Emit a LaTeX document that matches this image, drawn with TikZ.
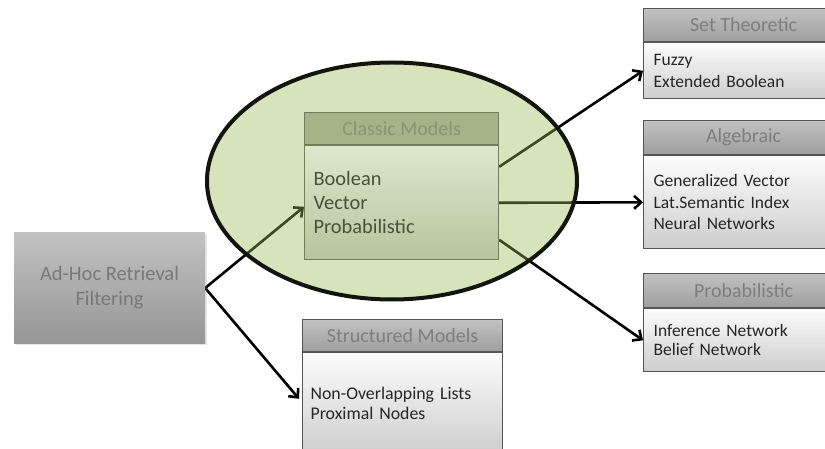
\documentclass[tikz,border=0pt]{standalone}
\usepackage{fontspec}
\setmainfont{Carlito}
\usetikzlibrary{arrows.meta,positioning,shapes.geometric,backgrounds,shadows}
\definecolor{ellCol}{RGB}{153,184,84}
\definecolor{ellLine}{RGB}{20,20,15}
\definecolor{olvHead}{RGB}{166,179,136}
\definecolor{olvTop}{RGB}{222,231,205}
\definecolor{olvBot}{RGB}{182,196,158}
\definecolor{olvLine}{RGB}{112,126,90}
\definecolor{olvText}{RGB}{72,82,56}
\definecolor{olvHText}{RGB}{136,150,110}
\definecolor{hdTop}{RGB}{194,194,194}
\definecolor{hdBot}{RGB}{158,158,158}
\definecolor{hdText}{RGB}{126,126,126}
\definecolor{bdTop}{RGB}{252,252,252}
\definecolor{bdBot}{RGB}{205,205,205}
\definecolor{boxLine}{RGB}{85,85,85}
\definecolor{srcTop}{RGB}{194,194,194}
\definecolor{srcBot}{RGB}{150,150,150}
\definecolor{srcText}{RGB}{120,120,120}
\tikzset{
  hdr/.style={draw=boxLine,line width=1.2pt,top color=hdTop,bottom color=hdBot,
              minimum height=33pt,inner sep=0pt,text=hdText,
              font=\fontsize{20}{22}\selectfont},
  body/.style={draw=boxLine,line width=1.2pt,top color=bdTop,bottom color=bdBot,
               align=left,inner xsep=10pt,inner ysep=0pt,text=black!85,
               font=\fontsize{17.5}{21.5}\selectfont},
  chdr/.style={hdr,draw=olvLine,top color=olvHead,bottom color=olvHead,
               text=olvHText,minimum height=32pt},
  cbody/.style={body,draw=olvLine,top color=olvTop,bottom color=olvBot,
                text=olvText,inner xsep=9pt,font=\fontsize{20.4}{24}\selectfont},
  src/.style={top color=srcTop,bottom color=srcBot,text=srcText,align=center,
              font=\fontsize{20.5}{25}\selectfont,
              drop shadow={opacity=0.2,shadow xshift=1.5pt,shadow yshift=-2pt}},
  flow/.style={-{Straight Barb[length=7pt,width=13pt]},line width=2.6pt,black},
}

\begin{document}
\begin{tikzpicture}[x=1pt,y=-1pt]
    \useasboundingbox (0,0) rectangle (825,449);
    % --- source ---
    \node[src,minimum width=191pt,minimum height=110pt] (adhoc) at (109.5,288)
      {Ad-Hoc Retrieval\\Filtering};
    % --- classic models inside the ellipse ---
    \node[ellipse,minimum width=370pt,minimum height=237pt,inner sep=0pt,
          fill=ellCol,fill opacity=0.4,draw=ellLine,line width=4pt] (ell) at (392,181) {};
    \node[chdr,anchor=north west,minimum width=194pt] (clsH) at (304,112) {Classic Models};
    \node[cbody,below=0pt of clsH,text width=176pt,minimum height=114pt] (clsB)
      {Boolean\\Vector\\Probabilistic};
    % --- structured models ---
    \node[hdr,anchor=north west,minimum width=200pt,minimum height=32pt] (strH) at (302,319)
      {Structured Models};
    \node[body,below=0pt of strH,text width=184pt,inner xsep=8pt,minimum height=102pt,
          font=\fontsize{17.8}{20}\selectfont] (strB)
      {Non-Overlapping Lists\\Proximal Nodes};
    % --- right column (runs off the page) ---
    \node[hdr,anchor=north west,minimum width=200pt] (setH) at (643,8) {Set Theoretic};
    \node[body,below=0pt of setH,text width=180pt,minimum height=56pt] (setB)
      {Fuzzy\\Extended Boolean};
    \node[hdr,anchor=north west,minimum width=200pt,minimum height=34pt] (algH) at (643,120)
      {Algebraic};
    \node[body,below=0pt of algH,text width=180pt,minimum height=93pt] (algB)
      {Generalized Vector\\Lat.Semantic Index\\Neural Networks};
    \node[hdr,anchor=north west,minimum width=200pt,minimum height=34pt] (prbH) at (643,273)
      {Probabilistic};
    \node[body,below=0pt of prbH,text width=180pt,minimum height=63pt,
          font=\fontsize{17.5}{19}\selectfont] (prbB)
      {Inference Network\\Belief Network};
    % --- connectors, under the ellipse ---
    \begin{pgfonlayer}{background}
      \draw[flow] (adhoc.east) -- ([yshift=-4pt]clsB.west);
      \draw[flow] (adhoc.east) -- ([xshift=-3pt,yshift=5pt]strB.west);
      \draw[flow] ([yshift=36pt]clsB.east) -- (setB.west);
      \draw[flow] (clsB.east) -- (algB.west);
      \draw[flow] ([yshift=-37pt]clsB.east) -- (prbB.west);
    \end{pgfonlayer}
\end{tikzpicture}
\end{document}
